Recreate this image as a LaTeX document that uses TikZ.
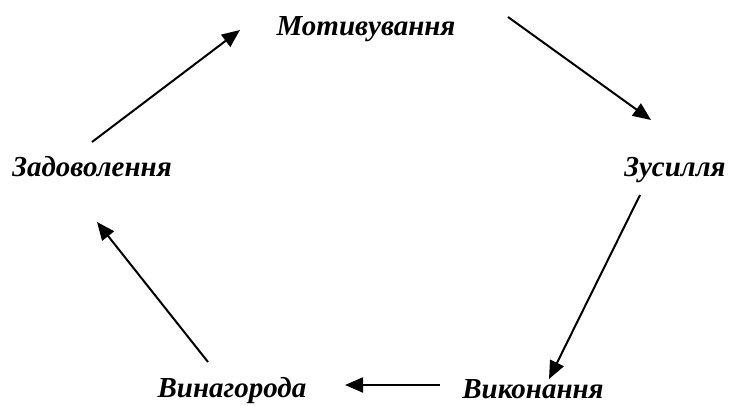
\documentclass[tikz,border=0pt]{standalone}
\usepackage{fontspec}
\setmainfont{Liberation Serif}
\usetikzlibrary{arrows.meta}
\begin{document}
\begin{tikzpicture}[x=1pt,y=-1pt,
  word/.style={font=\fontsize{29}{33}\selectfont\bfseries\itshape, inner sep=0pt, anchor=base},
  link/.style={line width=2pt, -{Triangle[length=18pt,width=15pt]}}]
\useasboundingbox (0,0) rectangle (730,406);
\node[word] (m) at (366,36) {Мотивування};
\node[word] (z) at (675,177) {Зусилля};
\node[word] (v) at (533,398) {Виконання};
\node[word] (n) at (232,397) {Винагорода};
\node[word] (d) at (92,177) {Задоволення};
\coordinate (a1) at (92,142); \coordinate (b1) at (240,30);
\coordinate (a2) at (508,17); \coordinate (b2) at (651,120);
\coordinate (a3) at (640,195); \coordinate (b3) at (549,379);
\coordinate (a4) at (440,385); \coordinate (b4) at (345,385);
\coordinate (a5) at (208,362); \coordinate (b5) at (97,222);
\draw[link] (a1) -- (b1);
\draw[link] (a2) -- (b2);
\draw[link] (a3) -- (b3);
\draw[link] (a4) -- (b4);
\draw[link] (a5) -- (b5);
\end{tikzpicture}
\end{document}
